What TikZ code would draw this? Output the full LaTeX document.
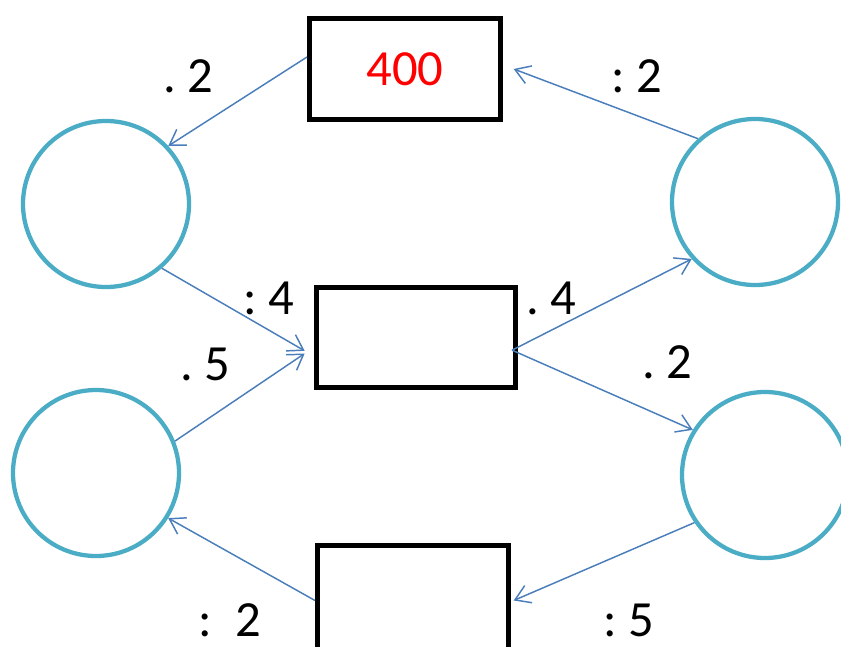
\documentclass[tikz,border=0pt]{standalone}
\usepackage{fontspec}
\setmainfont{Carlito}
\usetikzlibrary{arrows.meta}
\definecolor{circ}{HTML}{4BACC6}
\definecolor{arr}{HTML}{4A7EBB}
\begin{document}
\begin{tikzpicture}[x=0.75pt,y=-0.75pt,
  box/.style={draw=black,line width=3.75pt,minimum width=143.25pt,minimum height=75.75pt,inner sep=0pt,font=\fontsize{38}{40}\selectfont},
  ring/.style={circle,draw=circ,line width=3.2pt,minimum size=124.5pt,inner sep=0pt},
  link/.style={draw=arr,line width=1.1pt,-{Straight Barb[length=11pt,width=14pt,line width=1.1pt]}},
  lab/.style={font=\fontsize{38}{40}\selectfont,inner sep=0pt}]
\useasboundingbox (0,0) rectangle (841,646);
\clip (0,0) rectangle (841,646);
\node[box] (top) at (405,69) {\textcolor{red}{400}};
\node[box,minimum width=149.25pt,minimum height=75pt] (mid) at (416,337.5) {};
\node[box,minimum height=82.5pt] (bot) at (413,600.5) {};
\node[ring] (c1) at (106,204) {};
\node[ring] (c2) at (755,202) {};
\node[ring] (c3) at (96,473) {};
\node[ring] (c4) at (765,475) {};
\draw[link] ([yshift=9pt]top.west) -- (c1.43);
\draw[link] (c2.132) -- ([xshift=8pt]top.east);
\draw[link] (c1.-49) -- ([xshift=-7pt,yshift=-10pt]mid.west);
\draw[link] (c3.22) -- ([xshift=-7pt,yshift=-12pt]mid.west);
\draw[link] ([xshift=-4.5pt,yshift=-9.5pt]mid.east) -- (c2.-138);
\draw[link] ([xshift=-4.5pt,yshift=-9.5pt]mid.east) -- (c4.148);
\draw[link] (c4.-146) -- ([xshift=2pt]bot.east);
\draw[link] (bot.west) -- (c3.-32);
\node[lab] (l1) at (188,76) {.\ 2};
\node[lab] (l2) at (637,76) {:\ 2};
\node[lab] (l3) at (269,298) {:\ 4};
\node[lab] (l4) at (551,298) {.\ 4};
\node[lab] (l5) at (205,364) {.\ 5};
\node[lab] (l6) at (667,362) {.\ 2};
\node[lab] (l7) at (230,620) {:\ \ 2};
\node[lab] (l8) at (629,620) {:\ 5};
\end{tikzpicture}
\end{document}
